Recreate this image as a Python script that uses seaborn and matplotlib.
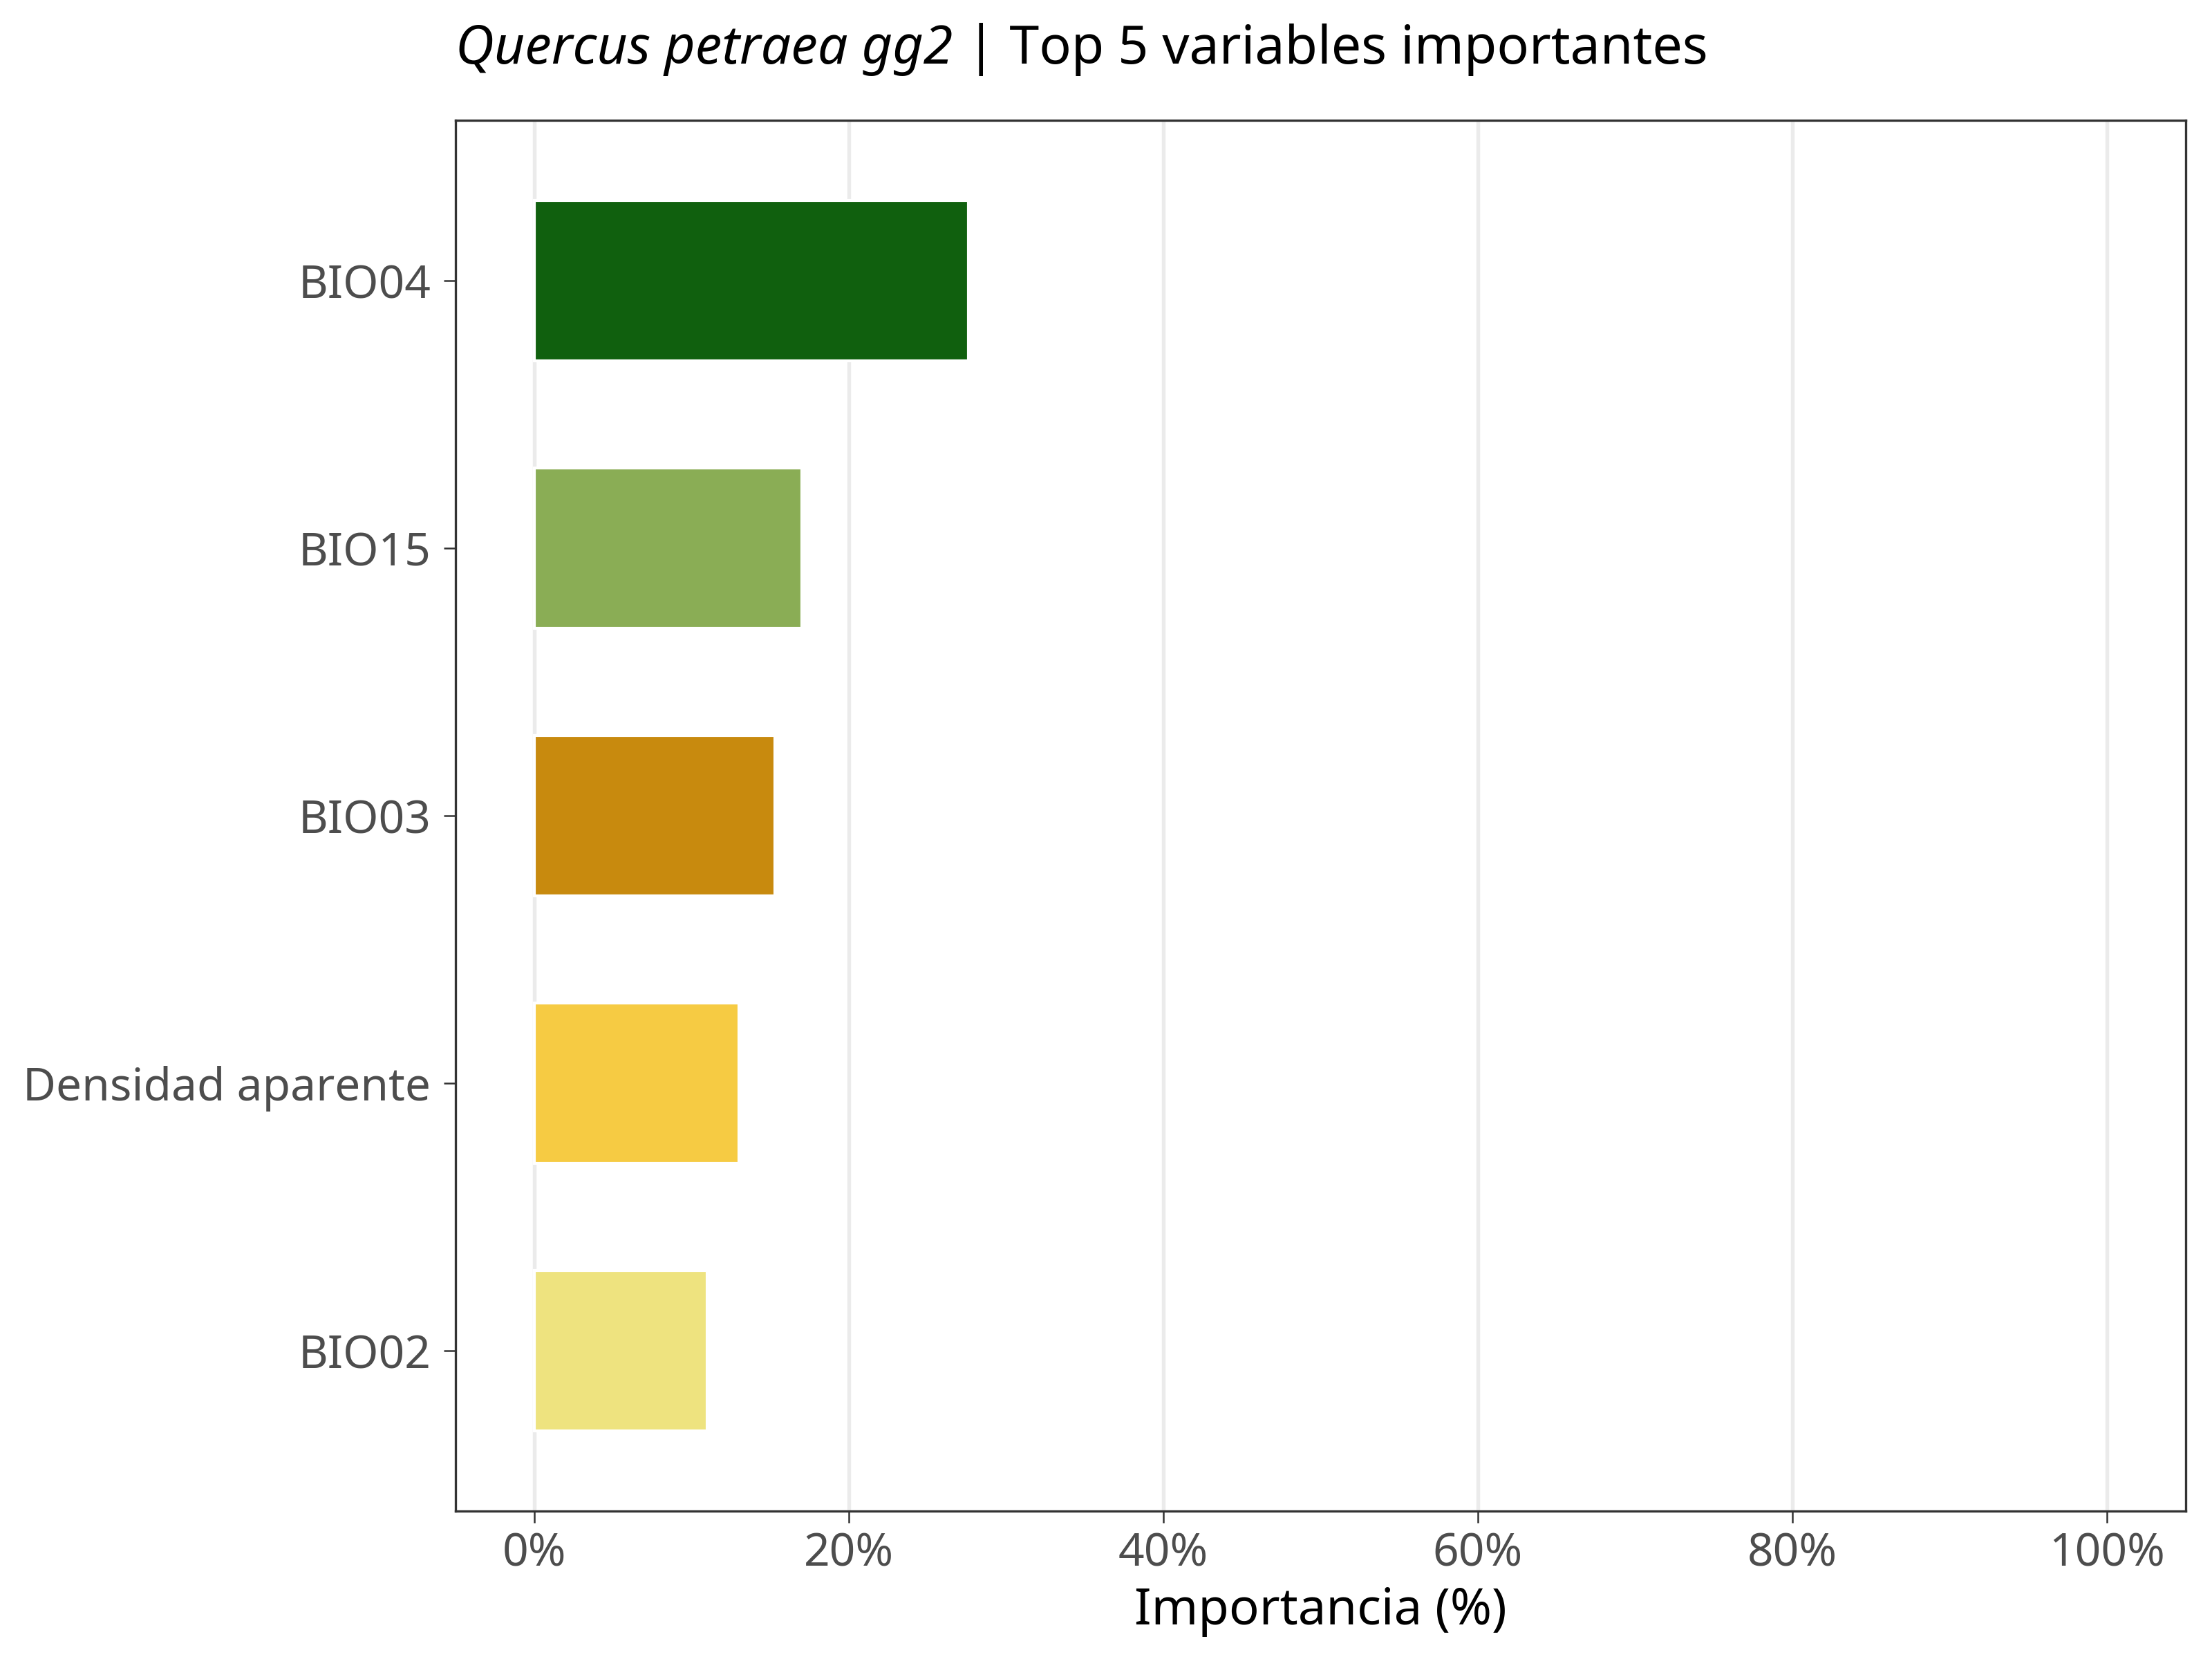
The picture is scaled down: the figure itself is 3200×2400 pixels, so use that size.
import matplotlib
matplotlib.use("Agg")
import matplotlib.pyplot as plt
from matplotlib.ticker import FuncFormatter
import seaborn as sns
import pandas as pd

# top 5 variables
variables = ["BIO04", "BIO15", "BIO03", "Densidad aparente", "BIO02"]
importance = [27.6, 17.0, 15.3, 13.0, 11.0]
bar_colors = ["#10600E", "#8AAD55", "#C88A0E", "#F6CB43", "#EEE37F"]
x_ticks = [0, 20, 40, 60, 80, 100]

species = "Quercus petraea gg2"
subtitle = " | Top 5 variables importantes"

sns.set_theme(style="white")
plt.rcParams["font.family"] = ["Noto Sans", "DejaVu Sans"]

df = pd.DataFrame({"variable": variables, "importancia": importance})

fig = plt.figure(figsize=(3200 / 300, 2400 / 300), dpi=300)
ax = fig.add_axes([0.206, 0.089, 0.782, 0.8385])

sns.barplot(data=df, x="importancia", y="variable", hue="variable",
            order=variables, hue_order=variables,
            palette=dict(zip(variables, bar_colors)),
            width=0.6, saturation=1, legend=False, ax=ax, zorder=2)

ax.set_xlim(-5, 105)
ax.set_ylim(len(variables) - 0.4, -0.6)
ax.set_xticks(x_ticks)
ax.xaxis.set_major_formatter(FuncFormatter(lambda v, p: f"{v:.0f}%"))

# ggplot theme_bw look: vertical grid only, dark border
ax.grid(axis="x", color="#EBEBEB", linewidth=1.3, zorder=0)
ax.grid(axis="y", visible=False)
ax.set_axisbelow(True)
for s in ax.spines.values():
    s.set_visible(True)
    s.set_color("#333333")
    s.set_linewidth(0.8)

ax.tick_params(axis="both", which="major", length=4.1, width=0.6,
               color="#333333", labelcolor="#4D4D4D", labelsize=15.8,
               bottom=True, left=True)
ax.tick_params(axis="y", pad=4.5)
ax.tick_params(axis="x", pad=3)

ax.set_xlabel("Importancia (%)", fontsize=17.4, color="black", labelpad=3)
ax.set_ylabel("")

# title: italic species name followed by upright text
t1 = fig.text(0.206, 0.9617, species, fontsize=18.5, style="italic",
              color="black", ha="left", va="baseline")
ax.annotate(subtitle, xy=(1, 0), xycoords=t1, fontsize=18.5,
            color="black", ha="left", va="bottom", annotation_clip=False)

fig.savefig("out.png", dpi=300)
